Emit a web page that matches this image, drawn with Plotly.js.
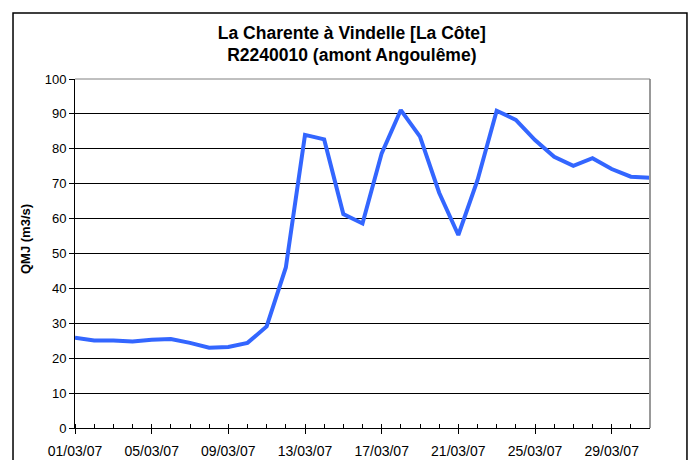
<!DOCTYPE html>
<html>
<head>
<meta charset="utf-8">
<script src="https://cdn.plot.ly/plotly-3.0.1.min.js"></script>
<style>
html,body{margin:0;padding:0;background:#fff;}
#chart{width:694px;height:460px;}
</style>
</head>
<body>
<div id="chart"></div>
<script>
const dates = ["2007-03-01","2007-03-02","2007-03-03","2007-03-04","2007-03-05","2007-03-06","2007-03-07","2007-03-08","2007-03-09","2007-03-10",
"2007-03-11","2007-03-12","2007-03-13","2007-03-14","2007-03-15","2007-03-16","2007-03-17","2007-03-18","2007-03-19","2007-03-20",
"2007-03-21","2007-03-22","2007-03-23","2007-03-24","2007-03-25","2007-03-26","2007-03-27","2007-03-28","2007-03-29","2007-03-30","2007-03-31"];
const qmj = [25.9,25.1,25.1,24.8,25.3,25.5,24.4,23.0,23.2,24.4,
29.1,46.0,84.0,82.7,61.3,58.6,78.7,91.1,83.5,67.4,
55.3,71.0,90.9,88.3,82.5,77.7,75.1,77.3,74.2,72.0,71.7];
const yTicks = [0,10,20,30,40,50,60,70,80,90,100];

const font = "Arial, 'Liberation Sans', sans-serif";
const trace = {
  x: dates, y: qmj, type: 'scatter', mode: 'lines',
  line: {color: '#3366FF', width: 4},
  hoverinfo: 'skip'
};
const layout = {
  width: 694, height: 460,
  margin: {l: 75, r: 44, t: 79, b: 32},
  paper_bgcolor: '#fff', plot_bgcolor: '#fff',
  showlegend: false,
  font: {family: font, size: 13, color: '#000'},
  title: {
    text: '<b>La Charente à Vindelle [La Côte]<br>R2240010 (amont Angoulême)</b>',
    font: {family: font, size: 17.5, color: '#000'},
    x: 0.507, xanchor: 'center', y: 0.916, yanchor: 'middle'
  },
  xaxis: {
    type: 'date',
    range: ['2007-03-01', '2007-03-31'],
    tick0: '2007-03-01', dtick: 4*86400000,
    tickformat: '%d/%m/%y',
    ticks: 'outside', ticklen: 5, tickcolor: '#000', tickwidth: 1,
    ticklabelstandoff: 5,
    minor: {dtick: 86400000, ticks: 'inside', ticklen: 4, tickcolor: '#000', showgrid: false},
    showgrid: false, zeroline: false,
    showline: true, linecolor: '#000', linewidth: 1,
    tickfont: {family: font, size: 14, color: '#000'},
    fixedrange: true
  },
  yaxis: {
    range: [0, 100], tickvals: yTicks,
    ticks: 'outside', ticklen: 5, tickcolor: '#000',
    showgrid: true, gridcolor: '#000', gridwidth: 1,
    zeroline: false,
    showline: true, linecolor: '#000', linewidth: 1,
    tickfont: {family: font, size: 13, color: '#000'},
    fixedrange: true
  },
  annotations: [
    {text: '<b>QMJ (m3/s)</b>', xref: 'paper', yref: 'paper', x: -0.087, y: 0.5415,
     xanchor: 'center', yanchor: 'middle', textangle: -90, showarrow: false,
     font: {family: font, size: 13, color: '#000'}}
  ],
  shapes: [
    {type: 'line', xref: 'paper', yref: 'paper', x0: 1, x1: 1, y0: 0, y1: 1, line: {color: '#999', width: 2}},
    {type: 'line', xref: 'paper', yref: 'paper', x0: 0, x1: 1, y0: 1, y1: 1, line: {color: '#808080', width: 1}},
    {type: 'rect', xref: 'paper', yref: 'paper', x0: -0.1078, x1: 1.0643, y0: -0.2, y1: 1.189, line: {color: '#000', width: 1.5}, fillcolor: 'rgba(0,0,0,0)'}
  ]
};
Plotly.newPlot('chart', [trace], layout, {displayModeBar: false, staticPlot: true});
</script>
</body>
</html>
